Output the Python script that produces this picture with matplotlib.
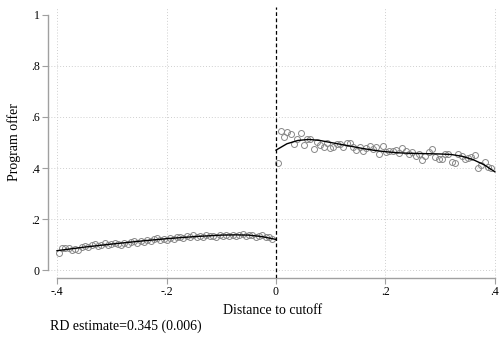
import numpy as np
import matplotlib.pyplot as plt

plt.rcParams['font.family'] = ['Liberation Serif', 'DejaVu Serif']

# binned means, left of cutoff (bin width ~0.006)
left_bins = np.round(-0.397 + 0.006 * np.arange(66), 4)
left_means = [0.068, 0.085, 0.088, 0.086, 0.080, 0.083, 0.078, 0.092, 0.095, 0.090,
              0.098, 0.102, 0.094, 0.099, 0.105, 0.097, 0.101, 0.108, 0.104, 0.100,
              0.106, 0.103, 0.110, 0.112, 0.108, 0.114, 0.111, 0.118, 0.113, 0.120,
              0.124, 0.117, 0.122, 0.119, 0.126, 0.121, 0.129, 0.131, 0.127, 0.133,
              0.130, 0.136, 0.128, 0.134, 0.131, 0.137, 0.133, 0.135, 0.130, 0.138,
              0.132, 0.136, 0.134, 0.139, 0.135, 0.137, 0.141, 0.133, 0.138, 0.136,
              0.130, 0.134, 0.139, 0.128, 0.131, 0.122]

# binned means, right of cutoff
right_bins = np.round(0.003 + 0.006 * np.arange(66), 4)
right_means = [0.420, 0.545, 0.520, 0.540, 0.533, 0.494, 0.513, 0.537, 0.490, 0.513,
               0.513, 0.474, 0.500, 0.490, 0.482, 0.498, 0.478, 0.484, 0.494, 0.494,
               0.484, 0.498, 0.497, 0.484, 0.470, 0.481, 0.467, 0.478, 0.487, 0.474,
               0.481, 0.455, 0.487, 0.462, 0.467, 0.467, 0.471, 0.460, 0.477, 0.467,
               0.455, 0.462, 0.448, 0.455, 0.431, 0.448, 0.463, 0.473, 0.444, 0.435,
               0.435, 0.455, 0.455, 0.425, 0.418, 0.455, 0.448, 0.435, 0.440, 0.442,
               0.451, 0.399, 0.412, 0.422, 0.404, 0.400]

# polynomial fits
left_fit_x = [-0.40, -0.35, -0.30, -0.25, -0.20, -0.15, -0.10, -0.075, -0.05, -0.025, 0.0]
left_fit_y = [0.076, 0.090, 0.102, 0.113, 0.123, 0.131, 0.137, 0.138, 0.137, 0.131, 0.120]
right_fit_x = [0.0, 0.02, 0.04, 0.06, 0.08, 0.10, 0.12, 0.14, 0.16, 0.18, 0.20,
               0.22, 0.24, 0.26, 0.28, 0.30, 0.32, 0.34, 0.36, 0.38, 0.40]
right_fit_y = [0.470, 0.495, 0.508, 0.512, 0.508, 0.500, 0.492, 0.484, 0.476, 0.469, 0.464,
               0.460, 0.458, 0.457, 0.456, 0.455, 0.453, 0.446, 0.433, 0.413, 0.385]

xticks = [-0.4, -0.2, 0, 0.2, 0.4]
xticklabels = ['-.4', '-.2', '0', '.2', '.4']
yticks = [0, 0.2, 0.4, 0.6, 0.8, 1]
yticklabels = ['0', '.2', '.4', '.6', '.8', '1']

fig = plt.figure(figsize=(4.99, 3.40), dpi=100)
ax = fig.add_axes([0.0962, 0.1824, 0.9, 0.797])

for gx in [-0.4, -0.2, 0.2, 0.4]:
    ax.axvline(gx, color='#cfcfcf', lw=0.7, ls=(0, (1, 2)), zorder=0)
for gy in [0, 0.2, 0.4, 0.6, 0.8]:
    ax.axhline(gy, color='#cfcfcf', lw=0.7, ls=(0, (1, 2)), zorder=0)

ax.plot(left_bins, left_means, 'o', mfc='none', mec='#888888', ms=4.3, mew=0.7, zorder=2)
ax.plot(right_bins, right_means, 'o', mfc='none', mec='#888888', ms=4.3, mew=0.7, zorder=2)
ax.plot(left_fit_x, left_fit_y, color='black', lw=1.0, zorder=3)
ax.plot(right_fit_x, right_fit_y, color='black', lw=1.0, zorder=3)
ax.axvline(0, color='black', lw=0.9, ls=(0, (3, 2)), zorder=4)

ax.set_xlim(-0.4165, 0.404)
ax.set_ylim(-0.031, 1.031)
ax.set_xticks(xticks)
ax.set_xticklabels(xticklabels)
ax.set_yticks(yticks)
ax.set_yticklabels(yticklabels)

for s in ['top', 'right']:
    ax.spines[s].set_visible(False)
ax.spines['left'].set_bounds(0, 1)
ax.spines['bottom'].set_bounds(-0.4, 0.4)
for s in ['left', 'bottom']:
    ax.spines[s].set_color('#a0a0a0')
    ax.spines[s].set_linewidth(1.0)
ax.tick_params(axis='both', colors='#a0a0a0', length=4, width=0.8, labelsize=8.5,
               labelcolor='black', pad=2)

ax.set_xlabel('Distance to cutoff', fontsize=10, labelpad=4)
ax.set_ylabel('Program offer', fontsize=10, labelpad=7)
fig.text(0.1, 0.022, 'RD estimate=0.345 (0.006)', fontsize=10, ha='left', va='bottom')

fig.savefig('out.png', dpi=100)
